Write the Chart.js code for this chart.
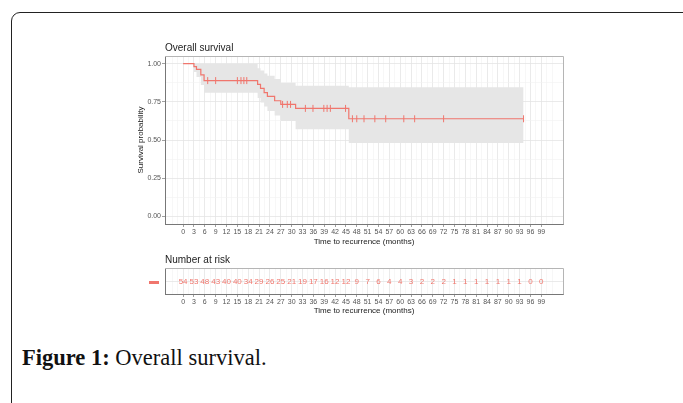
<!DOCTYPE html>
<html lang="en">
<head>
    <meta charset="UTF-8">
    <title>Overall survival</title>
    <style>
        body {
            margin: 0;
            width: 683px;
            height: 403px;
            overflow: hidden;
            background: #fff;
            position: relative;
        }
        .frame {
            position: absolute;
            left: 11px;
            top: 12px;
            width: 720px;
            height: 450px;
            border: 1.5px solid #222;
            border-radius: 9px;
        }
        #kmChart { position: absolute; left: 130px; top: 36px; }
        #riskChart { position: absolute; left: 130px; top: 255px; }
        .caption {
            position: absolute;
            left: 22px;
            top: 345px;
            font-family: "Liberation Serif", serif;
            font-size: 22.5px;
            color: #111;
            white-space: nowrap;
        }
    </style>
</head>
<body>
    <div class="frame"></div>
    <canvas id="kmChart" width="450" height="215"></canvas>
    <canvas id="riskChart" width="450" height="65"></canvas>
    <div class="caption"><b>Figure 1:</b> Overall survival.</div>

    <script src="https://cdn.jsdelivr.net/npm/chart.js"></script>
    <script>
        // Kaplan-Meier curve (step points)
        const kmTime  = [0, 3.0, 3.7, 4.9, 5.8, 20.6, 21.4, 22.4, 23.3, 25.3, 27.0, 31.1, 45.8, 94.1];
        const kmSurv  = [1.0, 0.981, 0.963, 0.926, 0.889, 0.864, 0.838, 0.810, 0.785, 0.757, 0.733, 0.707, 0.639, 0.639];
        const kmUpper = [1.0, 1.0, 1.0, 1.0, 1.0, 0.97, 0.955, 0.935, 0.92, 0.90, 0.875, 0.855, 0.845, 0.845];
        const kmLower = [1.0, 0.945, 0.913, 0.86, 0.81, 0.775, 0.745, 0.72, 0.69, 0.66, 0.625, 0.57, 0.48, 0.48];

        // censored observations
        const censorTime = [6.8, 9.0, 15.0, 16.0, 16.8, 17.6, 27.5, 28.8, 29.7,
                            33.8, 35.9, 38.9, 39.8, 40.7, 44.9,
                            46.8, 48.0, 50.0, 53.0, 56.0, 61.0, 64.0, 72.0, 94.1];
        const censorSurv = [0.889, 0.889, 0.889, 0.889, 0.889, 0.889, 0.733, 0.733, 0.733,
                            0.707, 0.707, 0.707, 0.707, 0.707, 0.707,
                            0.639, 0.639, 0.639, 0.639, 0.639, 0.639, 0.639, 0.639, 0.639];

        // number at risk table
        const riskTimes  = [0, 3, 6, 9, 12, 15, 18, 21, 24, 27, 30, 33, 36, 39, 42, 45, 48,
                            51, 54, 57, 60, 63, 66, 69, 72, 75, 78, 81, 84, 87, 90, 93, 96, 99];
        const riskCounts = [54, 53, 48, 43, 40, 40, 34, 29, 26, 25, 21, 19, 17, 16, 12, 12, 9,
                            7, 6, 4, 4, 3, 2, 2, 2, 1, 1, 1, 1, 1, 1, 1, 0, 0];

        const xBreaks = riskTimes;
        const yBreaks = [0, 0.25, 0.5, 0.75, 1.0];

        const RED = '#F0766D';
        const TICK_FONT = { family: 'Liberation Sans', size: 7 };
        const TITLE_FONT = { family: 'Liberation Sans', size: 8 };

        // major breaks plus the minor lines half way between them
        function withMinor(breaks, lo, hi) {
            const step = breaks[1] - breaks[0];
            const out = [];
            for (let v = breaks[0] - step; v <= breaks[breaks.length - 1] + step + 1e-9; v += step / 2) {
                const r = Math.round(v * 1000) / 1000;
                if (r >= lo && r <= hi) out.push(r);
            }
            return out;
        }
        const isMajor = (breaks, v) => breaks.some(b => Math.abs(b - v) < 1e-6);

        function xScale(showTitle) {
            return {
                type: 'linear',
                min: -5,
                max: 105,
                afterBuildTicks: s => { s.ticks = withMinor(xBreaks, -5, 105).map(v => ({ value: v })); },
                afterFit: s => { s.height = showTitle ? 27 : 26; },
                ticks: {
                    autoSkip: false,
                    maxRotation: 0,
                    padding: 1,
                    color: '#555',
                    font: TICK_FONT,
                    callback: v => isMajor(xBreaks, v) ? String(v) : ''
                },
                grid: {
                    color: ctx => isMajor(xBreaks, ctx.tick.value) ? '#e4e4e4' : '#f1f1f1',
                    lineWidth: ctx => isMajor(xBreaks, ctx.tick.value) ? 0.8 : 0.6,
                    tickColor: ctx => isMajor(xBreaks, ctx.tick.value) ? '#888' : 'rgba(0,0,0,0)',
                    tickLength: 3
                },
                border: { color: '#777', width: 1 },
                title: {
                    display: true,
                    text: 'Time to recurrence (months)',
                    color: '#222',
                    font: TITLE_FONT,
                    padding: { top: 0, bottom: 4 }
                }
            };
        }

        // panel title and the top/right panel border
        const panelDecor = {
            id: 'panelDecor',
            afterDraw(chart, args, opts) {
                const { ctx, chartArea: a } = chart;
                ctx.save();
                ctx.strokeStyle = '#b5b5b5';
                ctx.lineWidth = 1;
                ctx.beginPath();
                ctx.moveTo(a.left, a.top + 0.5);
                ctx.lineTo(a.right + 0.5, a.top + 0.5);
                ctx.lineTo(a.right + 0.5, a.bottom);
                ctx.stroke();
                ctx.fillStyle = '#222';
                ctx.font = '10px "Liberation Sans"';
                ctx.textBaseline = 'middle';
                ctx.fillText(opts.text, a.left, a.top + opts.offset);
                ctx.restore();
            }
        };

        // survival chart (lower "order" is drawn on top)
        new Chart(document.getElementById('kmChart'), {
            type: 'line',
            data: {
                datasets: [
                    {
                        data: kmTime.map((t, i) => ({ x: t, y: kmUpper[i] })),
                        stepped: 'before',
                        borderWidth: 0,
                        pointRadius: 0,
                        backgroundColor: '#e6e6e6',
                        fill: '+1',
                        order: 4
                    },
                    {
                        data: kmTime.map((t, i) => ({ x: t, y: kmLower[i] })),
                        stepped: 'before',
                        borderWidth: 0,
                        pointRadius: 0,
                        fill: false,
                        order: 3
                    },
                    {
                        data: kmTime.map((t, i) => ({ x: t, y: kmSurv[i] })),
                        stepped: 'before',
                        borderColor: RED,
                        borderWidth: 1.2,
                        pointRadius: 0,
                        fill: false,
                        order: 2
                    },
                    {
                        data: censorTime.map((t, i) => ({ x: t, y: censorSurv[i] })),
                        showLine: false,
                        pointStyle: 'line',
                        rotation: 90,
                        pointRadius: 3.5,
                        borderColor: RED,
                        borderWidth: 1,
                        order: 1
                    }
                ]
            },
            options: {
                responsive: false,
                animation: false,
                layout: { padding: { top: 20, right: 17, left: 0, bottom: 0 } },
                plugins: {
                    legend: { display: false },
                    tooltip: { enabled: false },
                    panelDecor: { text: 'Overall survival', offset: -8 }
                },
                scales: {
                    x: xScale(true),
                    y: {
                        type: 'linear',
                        min: -0.05,
                        max: 1.05,
                        afterBuildTicks: s => { s.ticks = withMinor(yBreaks, -0.05, 1.05).map(v => ({ value: v })); },
                        afterFit: s => { s.width = 35; },
                        ticks: {
                            padding: 1,
                            color: '#555',
                            font: TICK_FONT,
                            callback: v => isMajor(yBreaks, v) ? v.toFixed(2) : ''
                        },
                        grid: {
                            color: ctx => isMajor(yBreaks, ctx.tick.value) ? '#e4e4e4' : '#f1f1f1',
                            lineWidth: ctx => isMajor(yBreaks, ctx.tick.value) ? 0.8 : 0.6,
                            tickColor: ctx => isMajor(yBreaks, ctx.tick.value) ? '#888' : 'rgba(0,0,0,0)',
                            tickLength: 3
                        },
                        border: { color: '#777', width: 1 },
                        title: {
                            display: true,
                            text: 'Survival probability',
                            color: '#222',
                            font: TITLE_FONT,
                            padding: { top: 6, bottom: 0 }
                        }
                    }
                }
            },
            plugins: [panelDecor]
        });

        // labels of the risk table and the strata key
        const riskLabels = {
            id: 'riskLabels',
            afterDatasetsDraw(chart) {
                const { ctx, chartArea: a } = chart;
                const meta = chart.getDatasetMeta(0);
                ctx.save();
                ctx.fillStyle = RED;
                ctx.font = '8px "Liberation Sans"';
                ctx.textAlign = 'center';
                ctx.textBaseline = 'middle';
                meta.data.forEach((el, i) => ctx.fillText(String(riskCounts[i]), el.x, el.y + 1));
                const yc = chart.scales.y.getPixelForValue(0.5);
                ctx.fillRect(a.left - 16, yc, 10, 3);
                ctx.restore();
            }
        };

        new Chart(document.getElementById('riskChart'), {
            type: 'scatter',
            data: {
                datasets: [{
                    data: riskTimes.map(t => ({ x: t, y: 0.5 })),
                    pointRadius: 0
                }]
            },
            options: {
                responsive: false,
                animation: false,
                layout: { padding: { top: 13, right: 17, left: 0, bottom: 0 } },
                plugins: {
                    legend: { display: false },
                    tooltip: { enabled: false },
                    panelDecor: { text: 'Number at risk', offset: -7.5 }
                },
                scales: {
                    x: xScale(false),
                    y: {
                        type: 'linear',
                        min: 0,
                        max: 1,
                        afterBuildTicks: s => { s.ticks = [{ value: 0.5 }]; },
                        afterFit: s => { s.width = 35; },
                        ticks: { display: false },
                        grid: { color: '#e4e4e4', lineWidth: 0.8, drawTicks: false },
                        border: { color: '#777', width: 1 }
                    }
                }
            },
            plugins: [panelDecor, riskLabels]
        });
    </script>
</body>
</html>
